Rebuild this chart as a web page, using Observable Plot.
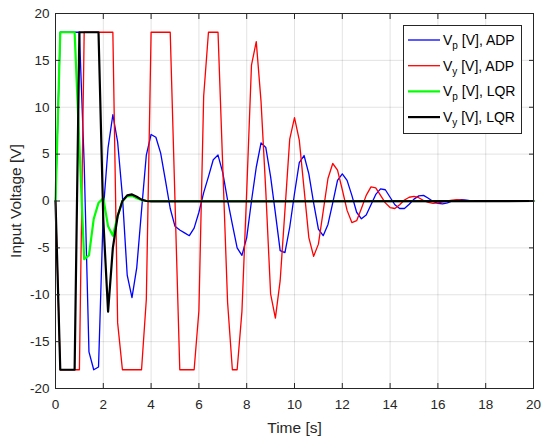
<!DOCTYPE html>
<html><head><meta charset="utf-8">
<script src="https://cdn.jsdelivr.net/npm/d3@7"></script>
<script src="https://cdn.jsdelivr.net/npm/@observablehq/plot@0.6"></script>
<style>body{margin:0;background:#fff;}</style>
</head><body><div id="chart"></div>
<script>
// sampling grid of the ADP runs (0 … 18 s every 0.2 s, then flat to 20 s)
const tADP = d3.range(0, 91).map(k => +(k * 0.2).toFixed(1)).concat([20]);

const vpADP = [0, 18, 18, 18, 18, 18, 4, -16.1, -18, -17.7,
  -1, 5.7, 9.2, 6.3, 0.5, -7.9, -10.3, -7.1, -1, 4.9,
  7.1, 6.8, 5.1, 2.2, -0.8, -2.7, -3.1, -3.4, -3.7, -2.9,
  -1.2, 0.9, 2.6, 4.4, 4.9, 3.0, 0.1, -2.5, -5.0, -5.8,
  -3.9, 0, 3.6, 6.2, 5.7, 2.6, -1.3, -5.3, -5.5, -2.8,
  0.8, 4.1, 4.85, 2.9, -0.2, -3.0, -3.7, -2.5, -0.2, 2.2,
  2.9, 2.2, 0.6, -1.2, -1.9, -1.5, -0.4, 0.7, 1.3, 1.2,
  0.4, -0.4, -0.8, -0.8, -0.35, 0.2, 0.55, 0.6, 0.3, -0.05,
  -0.25, -0.3, -0.2, 0, 0.1, 0.15, 0.1, 0.02, -0.05, -0.05,
  0, 0];

const vyADP = [0, -18, -18, -18, -18, -18, 18, 18, 18, 18,
  18, 18, 18, -13, -18, -18, -18, -18, -18, -10.5,
  18, 18, 18, 18, 18, 0, -18, -18, -18, -18,
  -11.7, 11.2, 18, 18, 18, 3.5, -10.8, -18, -18, -11.8,
  1, 14.5, 17, 10.6, 1, -9.9, -12.5, -8.5, -1, 6.6,
  8.9, 6.5, 1.3, -3.9, -5.9, -4.6, -1.1, 2.4, 4.0, 3.3,
  1.2, -1.0, -2.3, -2.1, -0.8, 0.6, 1.5, 1.4, 0.6, -0.2,
  -0.7, -0.8, -0.4, 0.1, 0.4, 0.5, 0.35, 0.05, -0.15, -0.25,
  -0.2, -0.1, 0, 0.1, 0.15, 0.1, 0.05, 0, -0.05, -0.05,
  0, 0];

const tVpLQR = [0, 0.2, 0.4, 0.6, 0.8, 1.2, 1.4, 1.6, 1.8, 2.0, 2.2, 2.4, 2.6, 2.8, 3.0, 3.2, 3.4, 3.6, 3.8, 20];
const vpLQR  = [0, 18, 18, 18, 18, -6.2, -5.8, -1.9, -0.2, 0.3, -2.7, -3.7, -1.6, 0, 0.5, 0.55, 0.3, 0.1, 0, 0];

const tVyLQR = [0, 0.2, 0.4, 0.6, 0.8, 1.0, 1.2, 1.4, 1.6, 1.8, 2.0, 2.2, 2.4, 2.6, 2.8, 3.0, 3.2, 3.4, 3.6, 3.8, 4.0, 20];
const vyLQR  = [0, -18, -18, -18, -18, 18, 18, 18, 18, 18, -2, -11.8, -5, -1.6, 0, 0.6, 0.7, 0.45, 0.15, 0, -0.05, 0];

const xTicks = [0, 2, 4, 6, 8, 10, 12, 14, 16, 18, 20];
const yTicks = [-20, -15, -10, -5, 0, 5, 10, 15, 20];

const legendItems = [
  {sub: "p", ctrl: "ADP", color: "#0000ff", w: 1.3},
  {sub: "y", ctrl: "ADP", color: "#ff0000", w: 1.3},
  {sub: "p", ctrl: "LQR", color: "#00ff00", w: 2.2},
  {sub: "y", ctrl: "LQR", color: "#000000", w: 2.2}
];

const rows = (t, v) => t.map((x, i) => ({t: x, v: v[i]}));
const noText = () => "";

const chart = Plot.plot({
  width: 543, height: 436,
  marginLeft: 55, marginRight: 10, marginTop: 13, marginBottom: 48,
  x: {domain: [0, 20], label: null},
  y: {domain: [-20, 20], label: null},
  style: {fontFamily: "'Liberation Sans', Arial, sans-serif", fontSize: "13.5px", color: "#262626", background: "#fff", overflow: "visible"},
  marks: [
    Plot.gridX(xTicks, {stroke: "#262626", strokeOpacity: 0.13, strokeWidth: 1}),
    Plot.gridY(yTicks, {stroke: "#262626", strokeOpacity: 0.13, strokeWidth: 1}),
    Plot.line(rows(tADP, vpADP), {x: "t", y: "v", stroke: legendItems[0].color, strokeWidth: legendItems[0].w}),
    Plot.line(rows(tADP, vyADP), {x: "t", y: "v", stroke: legendItems[1].color, strokeWidth: legendItems[1].w}),
    Plot.line(rows(tVpLQR, vpLQR), {x: "t", y: "v", stroke: legendItems[2].color, strokeWidth: legendItems[2].w}),
    Plot.line(rows(tVyLQR, vyLQR), {x: "t", y: "v", stroke: legendItems[3].color, strokeWidth: legendItems[3].w}),
    Plot.frame({stroke: "#262626", strokeWidth: 1}),
    Plot.axisX(xTicks, {anchor: "bottom", tickSize: 0, tickPadding: 11, tickFormat: d => String(d), label: null, fill: "#262626"}),
    Plot.axisX(xTicks, {anchor: "bottom", tickSize: -5, tickFormat: noText, label: null, stroke: "#262626"}),
    Plot.axisX(xTicks, {anchor: "top", tickSize: -5, tickFormat: noText, label: null, stroke: "#262626"}),
    Plot.axisY(yTicks, {anchor: "left", tickSize: 0, tickPadding: 6, tickFormat: d => String(d), label: null, fill: "#262626"}),
    Plot.axisY(yTicks, {anchor: "left", tickSize: -5, tickFormat: noText, label: null, stroke: "#262626"}),
    Plot.axisY(yTicks, {anchor: "right", tickSize: -5, tickFormat: noText, label: null, stroke: "#262626"}),
    Plot.text(["Time [s]"], {frameAnchor: "bottom", dy: 39.5, lineAnchor: "middle", textAnchor: "middle", fontSize: 15.5, fill: "#262626"}),
    Plot.text(["Input Voltage [V]"], {frameAnchor: "left", dx: -39, rotate: -90, lineAnchor: "middle", textAnchor: "middle", fontSize: 15.5, fill: "#262626"})
  ]
});
document.getElementById("chart").appendChild(chart);

// legend box inside the plot (upper right)
const svg = d3.select(chart);
const lg = svg.append("g").attr("font-family", "'Liberation Sans', Arial, sans-serif").attr("text-anchor", "start");
lg.append("rect").attr("x", 403.5).attr("y", 25.5).attr("width", 118).attr("height", 108)
  .attr("fill", "#fff").attr("stroke", "#262626").attr("stroke-width", 1);
legendItems.forEach((d, i) => {
  const y = 40 + i * 25.7;
  lg.append("line").attr("x1", 408).attr("x2", 440).attr("y1", y).attr("y2", y)
    .attr("stroke", d.color).attr("stroke-width", d.w);
  const tx = lg.append("text").attr("x", 443).attr("y", y + 5).attr("font-size", 14).attr("fill", "#000").attr("text-anchor", "start");
  tx.append("tspan").text("V");
  tx.append("tspan").attr("dy", 4).attr("font-size", 10).text(d.sub);
  tx.append("tspan").attr("dy", -4).text(" [V], " + d.ctrl);
});
</script>
</body></html>
